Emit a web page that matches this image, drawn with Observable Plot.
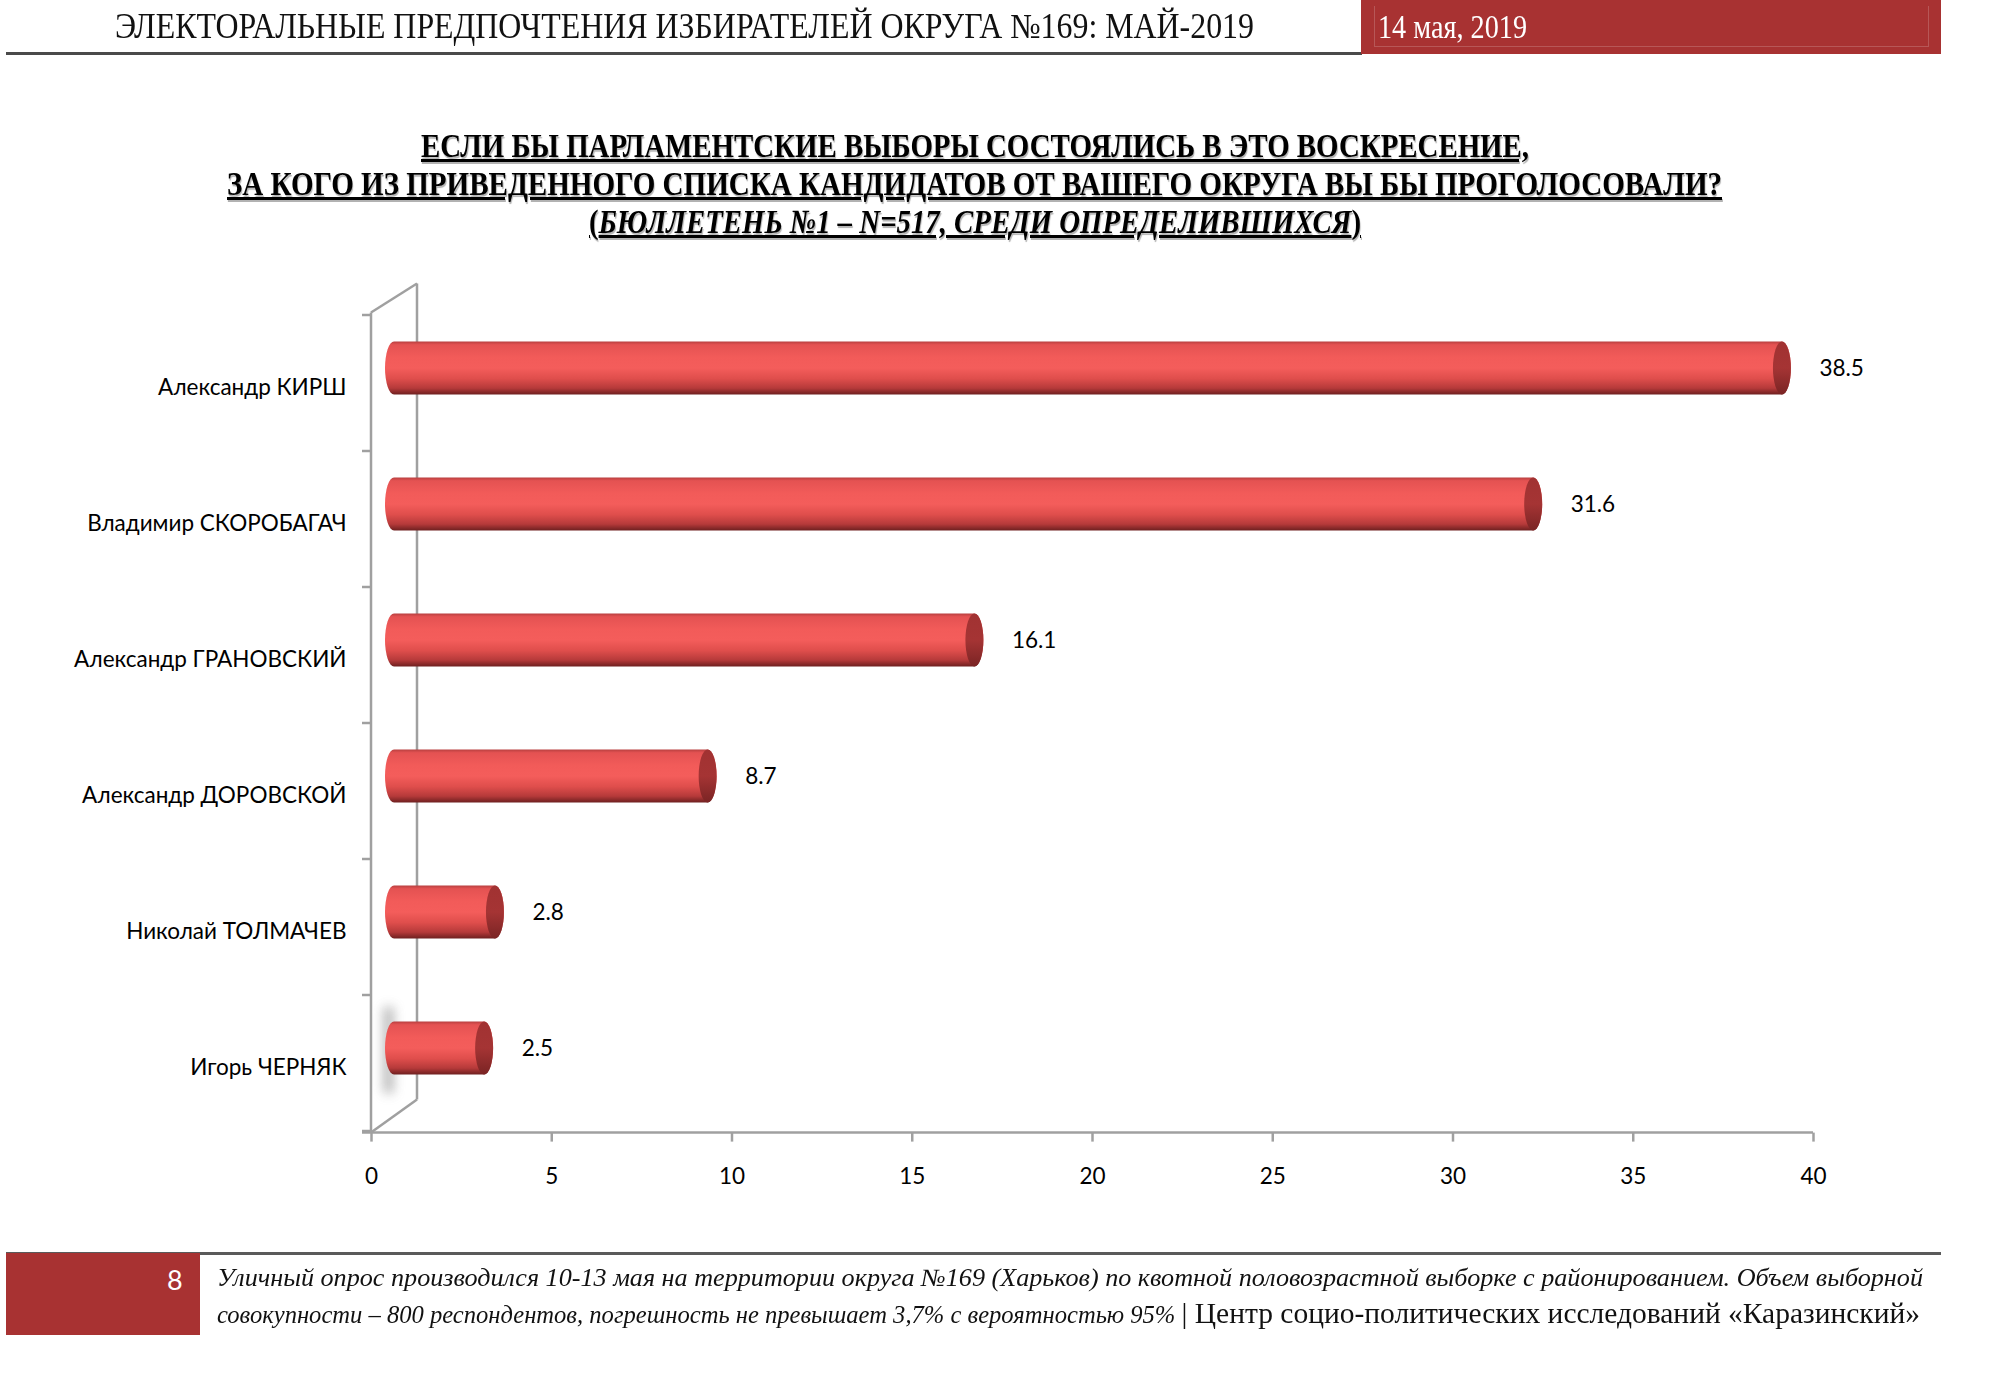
<!DOCTYPE html>
<html>
<head>
<meta charset="utf-8">
<script src="https://cdn.jsdelivr.net/npm/d3@7"></script>
<script src="https://cdn.jsdelivr.net/npm/@observablehq/plot@0.6"></script>
<style>
  html, body { margin: 0; padding: 0; background: #fff; }
  #page { position: relative; width: 2000px; height: 1378px; overflow: hidden; background: #fff; }
  .t { position: absolute; white-space: nowrap; line-height: 1; transform-origin: 0 0; }
  .serif { font-family: "Liberation Serif", "DejaVu Serif", serif; }
  #chart { position: absolute; left: 0; top: 250px; }
</style>
</head>
<body>
<div id="page">
  <!-- header -->
  <div style="position:absolute;left:6px;top:52px;width:1356px;height:2.5px;background:#4a4a4a"></div>
  <div style="position:absolute;left:1361px;top:0;width:580px;height:54px;background:#a83232"></div>
  <div style="position:absolute;left:1374px;top:6px;width:553px;height:40px;border:1px solid rgba(255,255,255,0.18);border-top:none"></div>
  <div class="t serif" data-w="1139" style="left:115px;top:9px;font-size:35px;color:#111">ЭЛЕКТОРАЛЬНЫЕ ПРЕДПОЧТЕНИЯ ИЗБИРАТЕЛЕЙ ОКРУГА №169: МАЙ-2019</div>
  <div class="t serif" data-w="149" style="left:1378px;top:10px;font-size:34px;color:#fff">14 мая, 2019</div>

  <!-- title -->
  <div class="t serif" data-w="1108" style="left:421px;top:129px;font-size:34px;font-weight:bold;text-decoration:underline;text-shadow:1px 2px 1px rgba(0,0,0,0.3)">ЕСЛИ БЫ ПАРЛАМЕНТСКИЕ ВЫБОРЫ СОСТОЯЛИСЬ В ЭТО ВОСКРЕСЕНИЕ,</div>
  <div class="t serif" data-w="1495" style="left:227px;top:167px;font-size:34px;font-weight:bold;text-decoration:underline;text-shadow:1px 2px 1px rgba(0,0,0,0.3)">ЗА КОГО ИЗ ПРИВЕДЕННОГО СПИСКА КАНДИДАТОВ ОТ ВАШЕГО ОКРУГА ВЫ БЫ ПРОГОЛОСОВАЛИ?</div>
  <div class="t serif" data-w="772" style="left:589px;top:205px;font-size:34px;font-weight:bold;text-decoration:underline;text-shadow:1px 2px 1px rgba(0,0,0,0.3)">(<i>БЮЛЛЕТЕНЬ №1 – N=517, СРЕДИ ОПРЕДЕЛИВШИХСЯ</i>)</div>

  <div id="chart"></div>

  <!-- footer -->
  <div style="position:absolute;left:6px;top:1252px;width:1935px;height:2.5px;background:#5a5a5a"></div>
  <div style="position:absolute;left:6px;top:1253px;width:194px;height:82px;background:#a83232"></div>
  <div class="t" style="left:167px;top:1266px;font-size:27px;color:#fff;font-family:Lato,sans-serif">8</div>
  <div class="t serif" data-w="1706" style="left:217px;top:1265px;font-size:25px;font-style:italic;color:#111">Уличный опрос производился 10-13 мая на территории округа №169 (Харьков) по квотной половозрастной выборке с районированием. Объем выборной</div>
  <div class="t serif" data-w="1703" style="left:217px;top:1298px;font-size:25px;color:#111"><i>совокупности – 800 респондентов, погрешность не превышает 3,7% с вероятностью 95%</i> <span style="font-size:30px">| Центр социо-политических исследований «Каразинский»</span></div>
</div>

<script>
// ---- data ----
const candidates = [
  "Александр КИРШ",
  "Владимир СКОРОБАГАЧ",
  "Александр ГРАНОВСКИЙ",
  "Александр ДОРОВСКОЙ",
  "Николай ТОЛМАЧЕВ",
  "Игорь ЧЕРНЯК"
];
const shares = [38.5, 31.6, 16.1, 8.7, 2.8, 2.5];
const xTicks = [0, 5, 10, 15, 20, 25, 30, 35, 40];

const data = candidates.map((name, i) => ({name, value: shares[i]}));

// ---- style constants ----
const axisGray = "#a0a0a0";
const barDx = 23, barDy = -15;
const wallDx = 46, wallDyTop = -29, wallDyBottom = -33;

// gradients for cylinders
function defsMark() {
  const svg = d3.create("svg:g");
  const defs = svg.append("defs");
  const body = defs.append("linearGradient").attr("id", "cylBody")
    .attr("x1", 0).attr("y1", 0).attr("x2", 0).attr("y2", 1);
  [[0, "#b94040"], [0.06, "#e45252"], [0.3, "#f25b59"], [0.5, "#f45d5b"], [0.7, "#df4e4c"], [0.88, "#b63a3a"], [1, "#6f2020"]]
    .forEach(([o, c]) => body.append("stop").attr("offset", o).attr("stop-color", c));
  const cap = defs.append("linearGradient").attr("id", "cylCap")
    .attr("x1", 0).attr("y1", 0).attr("x2", 0).attr("y2", 1);
  [[0, "#a13232"], [0.5, "#a53434"], [1, "#7a2424"]]
    .forEach(([o, c]) => cap.append("stop").attr("offset", o).attr("stop-color", c));
  const blur = defs.append("filter").attr("id", "soft")
    .attr("x", "-300%").attr("width", "700%").attr("y", "-50%").attr("height", "200%");
  blur.append("feGaussianBlur").attr("stdDeviation", 6);
  return svg.node();
}

// 3D wall, floor edge and category boundary ticks, positioned from the scales
function wallMark(index, scales, values, dimensions) {
  const {height, marginTop, marginBottom} = dimensions;
  const x0 = scales.x(0), x1 = scales.x(40);
  const top = marginTop, bottom = height - marginBottom;
  const n = candidates.length;
  const step = scales.y.bandwidth ? scales.y.step() : (bottom - top) / n;
  const root = d3.create("svg:g");
  // soft shadow on the wall beside the lowest bar
  const yLast = scales.y(candidates[n - 1]);
  root.append("rect").attr("x", x0 + 13).attr("width", 9)
    .attr("y", yLast + 12).attr("height", step - 50)
    .attr("fill", "#777").attr("opacity", 0.6).attr("filter", "url(#soft)");
  const g = root.append("g").attr("stroke", axisGray).attr("stroke-width", 2.5).attr("fill", "none");
  // front wall edge
  g.append("line").attr("x1", x0).attr("x2", x0).attr("y1", top).attr("y2", bottom);
  // back wall edge
  g.append("line").attr("x1", x0 + wallDx).attr("x2", x0 + wallDx).attr("y1", top + wallDyTop).attr("y2", bottom + wallDyBottom);
  // top & bottom diagonals
  g.append("line").attr("x1", x0).attr("y1", top).attr("x2", x0 + wallDx).attr("y2", top + wallDyTop);
  g.append("line").attr("x1", x0).attr("y1", bottom).attr("x2", x0 + wallDx).attr("y2", bottom + wallDyBottom);
  // floor front edge (x axis line)
  g.append("line").attr("x1", x0 - 9).attr("x2", x1).attr("y1", bottom).attr("y2", bottom);
  // boundary ticks
  const y0 = scales.y(candidates[0]);
  for (let i = 0; i <= n; i++) {
    const y = y0 + i * step;
    g.append("line").attr("x1", x0 - 9).attr("x2", x0).attr("y1", y).attr("y2", y);
  }
  return root.node();
}

const chart = Plot.plot({
  width: 2000,
  height: 970,
  marginLeft: 371,
  marginRight: 187,
  marginTop: 62.5,
  marginBottom: 87.4,
  x: {domain: [0, 40], label: null},
  y: {domain: candidates, padding: 0, label: null},
  style: {fontFamily: "Lato, 'Open Sans', sans-serif", fontSize: "22.5px", color: "#000", background: "transparent", overflow: "visible"},
  marks: [
    defsMark,
    wallMark,
    Plot.axisX({ticks: xTicks, tickSize: 9, tickPadding: 26, stroke: axisGray, strokeWidth: 2.5, fill: "#000", label: null, tickFormat: d => String(d)}),
    Plot.axisY({tickSize: 0, tickPadding: 25, dy: 4, fill: "#000", label: null}),
    Plot.barX(data, {
      x1: 0, x2: "value", y: "name",
      fill: "url(#cylBody)",
      insetTop: 41.6, insetBottom: 41.6, insetLeft: -9, insetRight: -9,
      rx: 9, ry: 27, dx: barDx, dy: barDy
    }),
    Plot.barX(data, {
      x1: "value", x2: "value", y: "name",
      fill: "url(#cylCap)",
      insetTop: 41.6, insetBottom: 41.6, insetLeft: -9, insetRight: -9,
      rx: 9, ry: 27, dx: barDx, dy: barDy
    }),
    Plot.text(data, {
      x: "value", y: "name", text: d => d.value.toFixed(1),
      dx: 60, dy: barDy, textAnchor: "start", fill: "#000"
    })
  ]
});
document.getElementById("chart").appendChild(chart);

// fit condensed text widths
document.querySelectorAll(".t[data-w]").forEach(el => {
  el.style.display = "inline-block";
  const w = el.getBoundingClientRect().width;
  const target = +el.dataset.w;
  el.style.transform = `scaleX(${target / w})`;
});
</script>
</body>
</html>
